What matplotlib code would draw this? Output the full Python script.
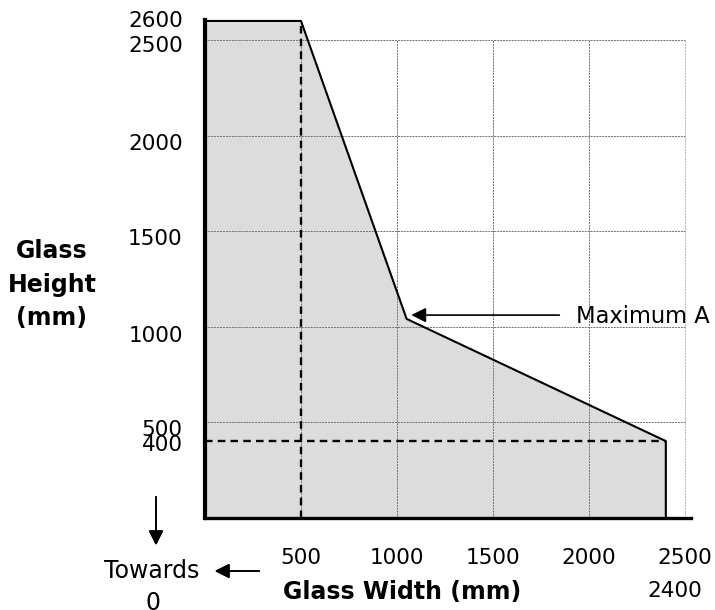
import matplotlib.pyplot as plt

# outline of the allowed glass size region
width_pts = [0, 500, 1050, 2400, 2400]
height_pts = [2600, 2600, 1040, 400, 0]

x_ticks = [500, 1000, 1500, 2000, 2500]
y_ticks = [2600, 2500, 2000, 1500, 1000, 500, 400]
# small vertical nudges (points) of the y labels, as in the drawing
y_nudge = [0, -4, -6, -6, -7, -6, -3]
grid_vals = [500, 1000, 1500, 2000, 2500]

min_width = 500
min_height = 400
max_a = (1050, 1040)

plt.rcParams['font.family'] = ['DejaVu Sans']
fs = 15.5
fs_word = 17

fig = plt.figure(figsize=(7.15, 6.10), dpi=100)
ax = fig.add_axes([0.2867, 0.1516, 0.6797, 0.8156])
ax.set_xlim(0, 2531)
ax.set_ylim(0, 2605)

# shaded region
poly_x = [0] + width_pts
poly_y = [0] + height_pts
ax.fill(poly_x, poly_y, color='#dcdcdc', zorder=1)

# grid, only up to 2500 in both directions
for g in grid_vals:
    c = '#b0b0b0' if g == 2500 else '#707070'
    ax.plot([g, g], [0, 2500], color=c, lw=0.7, ls=(0, (2, 1)), zorder=2)
    ax.plot([0, 2500], [g, g], color='#707070', lw=0.7, ls=(0, (2, 1)), zorder=2)

# dashed minimum lines
ax.plot([min_width, min_width], [0, 2600], color='black', lw=1.7, ls=(0, (3.2, 2.2)), zorder=3)
ax.plot([0, 2400], [min_height, min_height], color='black', lw=1.7, ls=(0, (3.2, 2.2)), zorder=3)

# outline
ax.plot(width_pts, height_pts, color='black', lw=1.5, zorder=4, clip_on=False)

for s in ['top', 'right']:
    ax.spines[s].set_visible(False)
ax.spines['left'].set_linewidth(3.0)
ax.spines['bottom'].set_linewidth(2.4)
ax.spines['left'].set_zorder(5)
ax.spines['bottom'].set_zorder(5)
ax.set_xticks([])
ax.set_yticks([])

# y tick labels
for v, dy in zip(y_ticks, y_nudge):
    ax.annotate(str(v), xy=(0, v), xycoords=('axes fraction', 'data'),
                xytext=(-16, dy), textcoords='offset points',
                ha='right', va='center', fontsize=fs)

# x tick labels
for v in x_ticks:
    ax.annotate(str(v), xy=(v, 0), xycoords=('data', 'axes fraction'),
                xytext=(0, -29), textcoords='offset points',
                ha='center', va='center', fontsize=fs)
ax.annotate('2400', xy=(2445, 0), xycoords=('data', 'axes fraction'),
            xytext=(0, -53), textcoords='offset points',
            ha='center', va='center', fontsize=fs)

fig.text(402 / 715, 1 - 592 / 610, 'Glass Width (mm)', ha='center', va='center',
         fontsize=fs_word, fontweight='bold')
fig.text(52 / 715, 1 - 285 / 610, 'Glass\nHeight\n(mm)', ha='center', va='center',
         fontsize=fs_word, fontweight='bold', linespacing=1.5)

# Maximum A marker
ax.annotate('', xy=(max_a[0] + 10, max_a[1] + 20), xytext=(1860, max_a[1] + 20),
            arrowprops=dict(arrowstyle='-|>', color='black', lw=1.2, mutation_scale=22))
ax.text(1930, max_a[1] + 15, 'Maximum A', ha='left', va='center', fontsize=16.3)

# towards 0 hints
fig.text(152 / 715, 1 - 571 / 610, 'Towards', ha='center', va='center', fontsize=fs_word)
fig.text(153 / 715, 1 - 603 / 610, '0', ha='center', va='center', fontsize=fs_word)
fig.add_artist(plt.annotate('', xy=(212 / 715, 1 - 571 / 610), xytext=(262 / 715, 1 - 571 / 610),
                            xycoords='figure fraction',
                            arrowprops=dict(arrowstyle='-|>', color='black', lw=1.2, mutation_scale=22)))
fig.add_artist(plt.annotate('', xy=(156 / 715, 1 - 548 / 610), xytext=(156 / 715, 1 - 494 / 610),
                            xycoords='figure fraction',
                            arrowprops=dict(arrowstyle='-|>', color='black', lw=1.2, mutation_scale=22)))

fig.savefig('out.png', dpi=100)
